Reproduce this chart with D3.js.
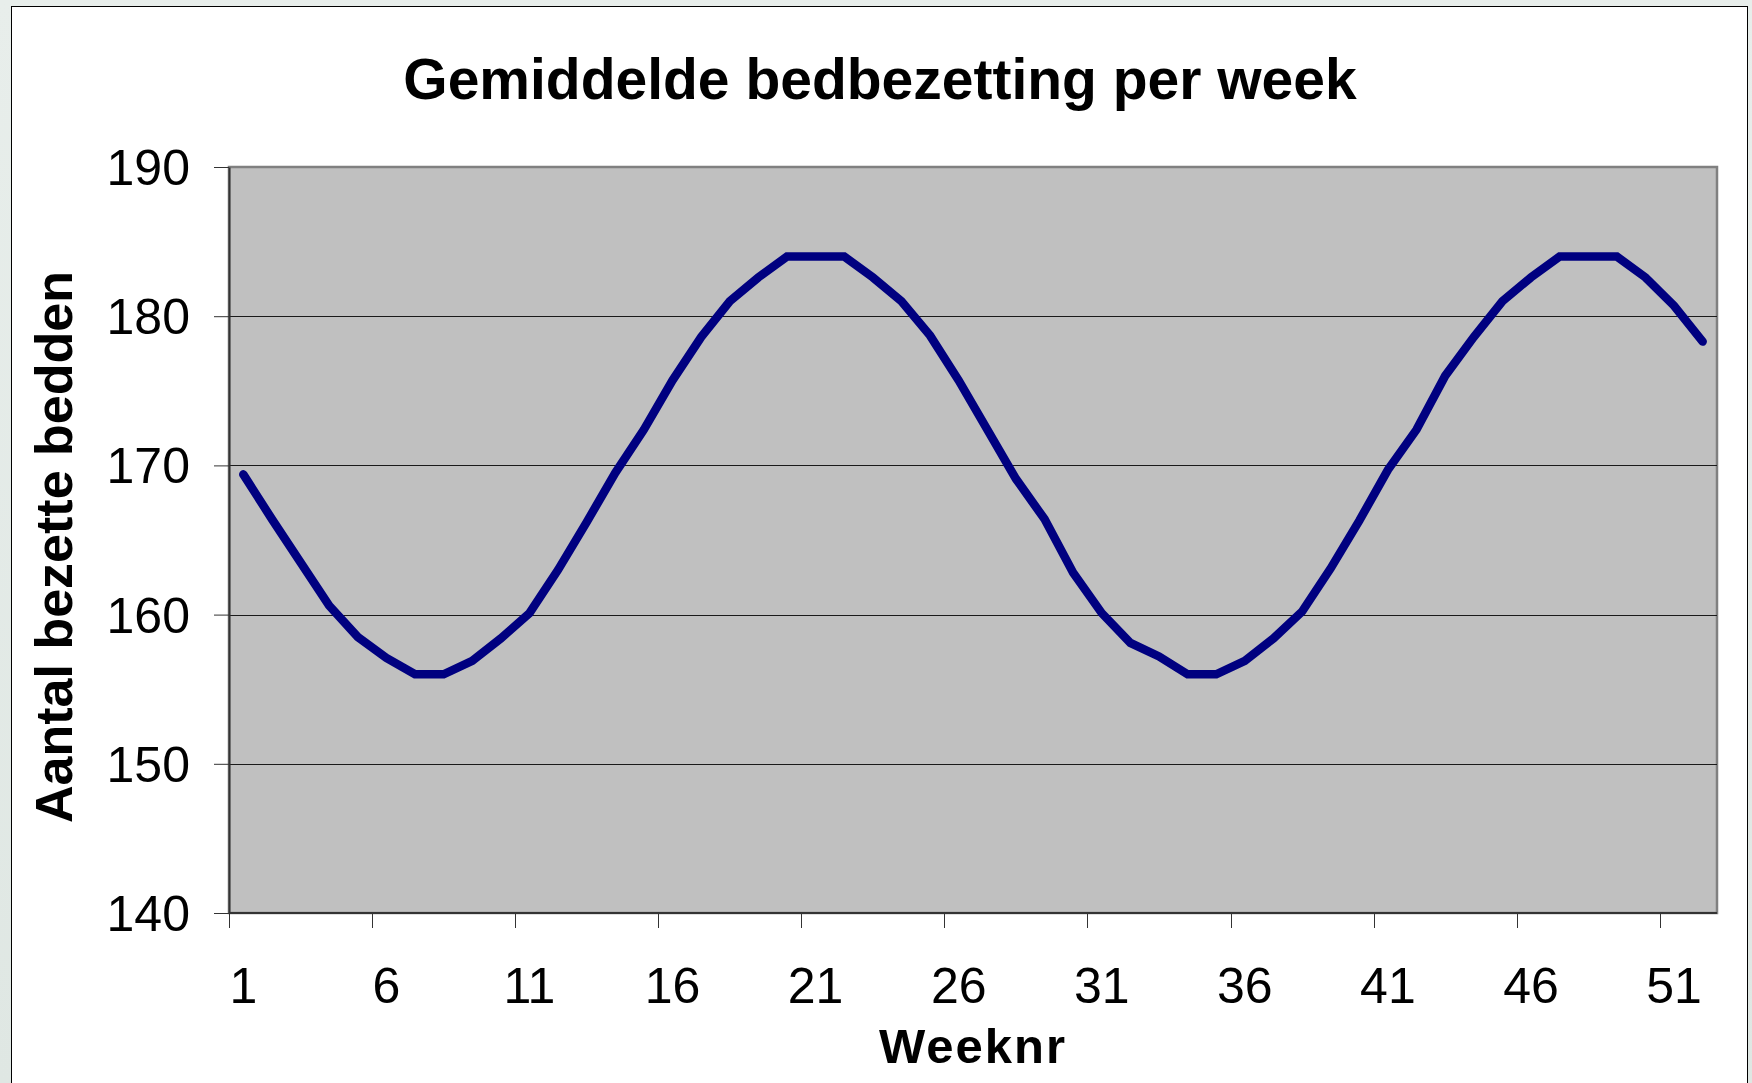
<!DOCTYPE html>
<html>
<head>
<meta charset="utf-8">
<script src="https://cdn.jsdelivr.net/npm/d3@7"></script>
<style>
  html, body { margin: 0; padding: 0; background: #e3eae7; }
  svg { display: block; }
</style>
</head>
<body>
<div id="main"></div>
<script>
const w = 1752;
const h = 1083;

// chart data
const weeks = d3.range(1, 53);
const bedden = [169.4, 166.4, 163.5, 160.6, 158.5, 157.1, 156, 156, 156.9, 158.4,
                160.1, 163, 166.2, 169.5, 172.4, 175.7, 178.6, 181, 182.6, 184,
                184, 184, 182.6, 181, 178.7, 175.7, 172.4, 169.1, 166.4, 162.8,
                160.1, 158.1, 157.2, 156, 156, 156.9, 158.4, 160.2, 163.1, 166.3,
                169.7, 172.4, 176, 178.6, 181, 182.6, 184, 184, 184, 182.6,
                180.7, 178.3];
const yTicks = [140, 150, 160, 170, 180, 190];
const xTickWeeks = [1, 6, 11, 16, 21, 26, 31, 36, 41, 46, 51];

const titleText = "Gemiddelde bedbezetting per week";
const xTitle = "Weeknr";
const yTitle = "Aantal bezette bedden";

const plot = {left: 229, right: 1717, top: 167, bottom: 913};
const font = "'Liberation Sans', Arial, Helvetica, sans-serif";

const svg = d3.select("#main")
  .append("svg")
  .attr("width", w)
  .attr("height", h);

// background + white frame
const bg = svg.append("defs").append("linearGradient")
  .attr("id", "bg").attr("x1", 0).attr("y1", 0).attr("x2", 0).attr("y2", 1);
bg.append("stop").attr("offset", 0).attr("stop-color", "#e8eeeb");
bg.append("stop").attr("offset", 1).attr("stop-color", "#dfe7e3");

svg.append("rect").attr("width", w).attr("height", h).attr("fill", "url(#bg)");

svg.append("rect")
  .attr("x", 11.5).attr("y", 6.5)
  .attr("width", 1736).attr("height", 1200)
  .attr("fill", "white")
  .attr("stroke", "black")
  .attr("stroke-width", 1);

const x = d3.scaleLinear()
  .domain([0.5, 52.5])
  .range([plot.left, plot.right]);

const y = d3.scaleLinear()
  .domain([140, 190])
  .range([plot.bottom, plot.top]);

// plot area
svg.append("rect")
  .attr("x", plot.left).attr("y", plot.top)
  .attr("width", plot.right - plot.left)
  .attr("height", plot.bottom - plot.top)
  .attr("fill", "#c0c0c0")
  .attr("stroke", "#808080")
  .attr("stroke-width", 2.5);

// gridlines
svg.append("g")
  .selectAll("line")
  .data(yTicks.filter(d => d > 140 && d < 190))
  .enter()
  .append("line")
  .attr("x1", plot.left).attr("x2", plot.right)
  .attr("y1", d => Math.round(y(d)) + 0.5)
  .attr("y2", d => Math.round(y(d)) + 0.5)
  .attr("stroke", "#1a1a1a")
  .attr("stroke-width", 1.2);

// y axis
const yAxis = svg.append("g")
  .attr("transform", "translate(" + plot.left + ",0)")
  .call(d3.axisLeft(y).tickValues(yTicks).tickSize(15).tickPadding(24).tickSizeOuter(0));
yAxis.select(".domain").attr("stroke", "#333").attr("stroke-width", 2);
yAxis.selectAll(".tick line").attr("stroke", "#333");
yAxis.selectAll("text")
  .attr("font-family", font)
  .attr("font-size", 50)
  .attr("dy", "0.35em")
  .attr("fill", "black");

// x axis (ticks on category boundaries, labels on category centers)
svg.append("line")
  .attr("x1", plot.left).attr("x2", plot.right)
  .attr("y1", plot.bottom).attr("y2", plot.bottom)
  .attr("stroke", "#333").attr("stroke-width", 2);

svg.append("g")
  .selectAll("line")
  .data(xTickWeeks)
  .enter()
  .append("line")
  .attr("x1", d => Math.round(x(d - 0.5)) + 0.5)
  .attr("x2", d => Math.round(x(d - 0.5)) + 0.5)
  .attr("y1", plot.bottom)
  .attr("y2", plot.bottom + 15)
  .attr("stroke", "#333");

svg.append("g")
  .selectAll("text")
  .data(xTickWeeks)
  .enter()
  .append("text")
  .attr("x", d => x(d))
  .attr("y", 1003)
  .attr("text-anchor", "middle")
  .attr("font-family", font)
  .attr("font-size", 50)
  .text(d => d);

// the line
const line = d3.line()
  .x((d, i) => x(weeks[i]))
  .y(d => y(d));

svg.append("path")
  .datum(bedden)
  .attr("d", line)
  .attr("fill", "none")
  .attr("stroke", "#000080")
  .attr("stroke-width", 8.5)
  .attr("stroke-linecap", "round")
  .attr("stroke-linejoin", "miter");

// titles
svg.append("text")
  .attr("x", 880)
  .attr("y", 99)
  .attr("text-anchor", "middle")
  .attr("font-family", font)
  .attr("font-weight", "bold")
  .attr("font-size", 57)
  .text(titleText);

svg.append("text")
  .attr("x", (plot.left + plot.right) / 2)
  .attr("y", 1063)
  .attr("text-anchor", "middle")
  .attr("font-family", font)
  .attr("font-weight", "bold")
  .attr("font-size", 49)
  .attr("letter-spacing", 2)
  .text(xTitle);

svg.append("text")
  .attr("transform", "translate(72,547) rotate(-90)")
  .attr("text-anchor", "middle")
  .attr("font-family", font)
  .attr("font-weight", "bold")
  .attr("font-size", 52)
  .text(yTitle);
</script>
</body>
</html>
